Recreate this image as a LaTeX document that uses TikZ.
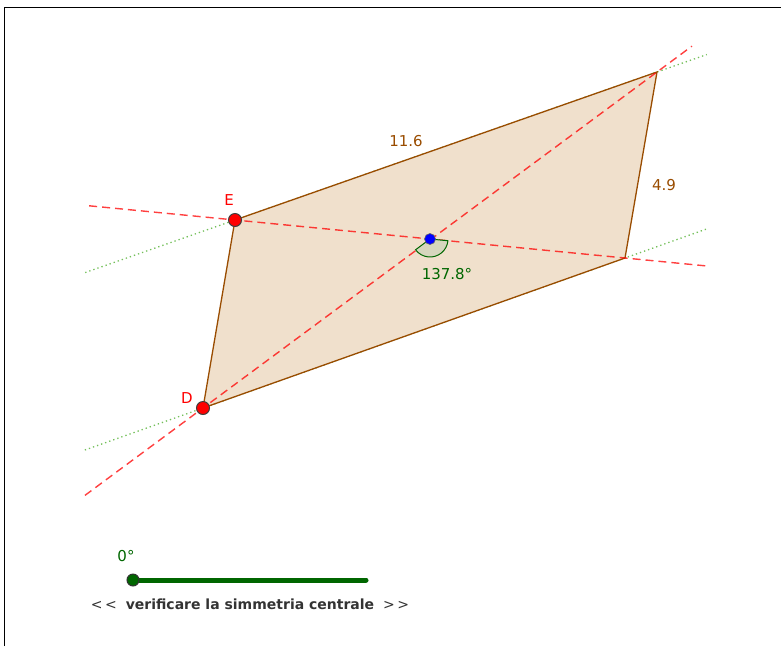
\documentclass[tikz,border=0pt]{standalone}
\usepackage{fontspec}
\setsansfont{DejaVu Sans}
\usetikzlibrary{calc}
\definecolor{cBrown}{rgb}{0.6, 0.3, 0.0}
\definecolor{cFill}{rgb}{0.94, 0.88, 0.80}
\definecolor{cDarkGreen}{rgb}{0, 0.4, 0}
\definecolor{cLightGreen}{rgb}{0.45, 0.75, 0.35}
\definecolor{cAngleFill}{rgb}{0.84, 0.84, 0.74}

\begin{document}
\begin{tikzpicture}[x=1pt, y=-1pt,
    vertex/.style={circle, draw=black!75, fill=red, line width=1pt, inner sep=0pt, minimum size=13pt},
    center/.style={circle, draw=black!60, fill=blue, line width=0.6pt, inner sep=0pt, minimum size=11pt},
    side/.style={draw=cBrown, line width=1.3pt, fill=cFill},
    sym/.style={red, opacity=0.75, line width=1.4pt, dash pattern=on 8pt off 5pt},
    par/.style={cLightGreen, line width=1.3pt, dash pattern=on 1.3pt off 3pt},
    labelstyle/.style={font=\sffamily\fontsize{15}{17}\selectfont, inner sep=1pt}
]
\useasboundingbox (0,0) rectangle (781,646);
% Frame (top and left edge only)
\draw[line width=1.5pt] (4.5,646) -- (4.5,7.5) -- (781,7.5);

% Vertices and centre
\coordinate (D) at (203,408);
\coordinate (E) at (235,220);
\coordinate (F) at (657,72);
\coordinate (G) at (625,258);
\coordinate (O) at (430,239);

% Green dotted lines through the sides
\draw[par] ($(E)!-0.355!(F)$) -- ($(E)!1.118!(F)$);
\draw[par] ($(D)!-0.28!(G)$) -- ($(D)!1.194!(G)$);

% Parallelogram
\draw[side] (D) -- (E) -- (F) -- (G) -- cycle;

% Red dashed diagonals
\draw[sym] ($(E)!-0.374!(G)$) -- ($(E)!1.21!(G)$);
\draw[sym] ($(D)!-0.26!(F)$) -- ($(D)!1.077!(F)$);

% Angle at the centre
\filldraw[draw=cDarkGreen, fill=cAngleFill, line width=1pt]
    (O) -- ++(5.57:18) arc (5.57:143.3:18) -- cycle;
\node[labelstyle, text=cDarkGreen] (angleLabel) at (447,274) {137.8°};

% Side lengths
\node[labelstyle, text=cBrown] (lenEF) at (406,141) {11.6};
\node[labelstyle, text=cBrown] (lenFG) at (664,185) {4.9};

% Points
\node[vertex] (pE) at (E) {};
\node[vertex] (pD) at (D) {};
\node[center] (pO) at (O) {};
\node[labelstyle, text=red] (labE) at (229,200) {E};
\node[labelstyle, text=red] (labD) at (187,398) {D};

% Slider
\coordinate (sliderStart) at (133,580);
\coordinate (sliderEnd) at (366,580);
\draw[cDarkGreen, line width=5pt, line cap=round] (sliderStart) -- (sliderEnd);
\node[circle, draw=black!80, fill=cDarkGreen, line width=1pt, inner sep=0pt, minimum size=12pt] (knob) at (sliderStart) {};
\node[labelstyle, text=cDarkGreen] (sliderValue) at (126,556) {0°};
\node[labelstyle, text=black!80, font=\sffamily\fontsize{14}{16}\selectfont] (caption) at (250,604)
    {<\,<\hspace{9pt}\textbf{verificare la simmetria centrale}\hspace{9pt}>\,>};
\end{tikzpicture}
\end{document}
